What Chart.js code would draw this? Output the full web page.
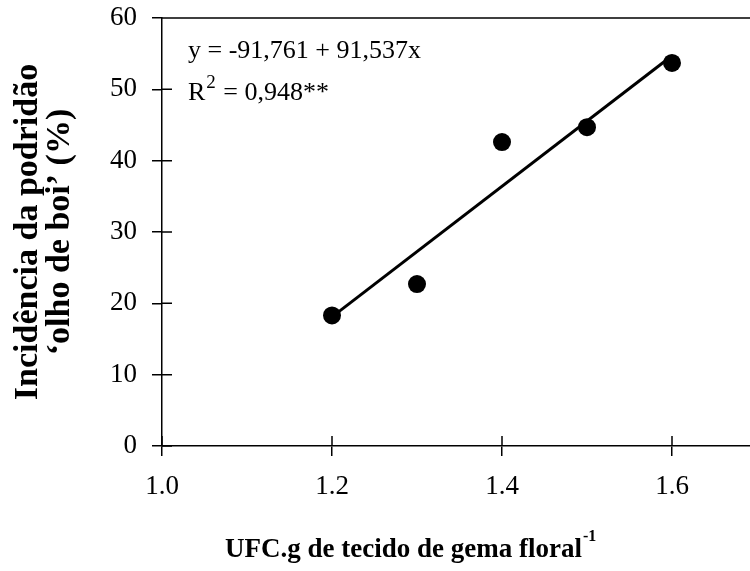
<!DOCTYPE html>
<html>
<head>
<meta charset="utf-8">
<script src="https://cdn.jsdelivr.net/npm/chart.js@4"></script>
<style>
  html, body { margin: 0; padding: 0; background: #fff; overflow: hidden; }
  #wrap { width: 750px; height: 571px; overflow: hidden; }
</style>
</head>
<body>
<div id="wrap"><canvas id="chart" width="770" height="571"></canvas></div>
<script>
// observed points
var pointsX = [1.2, 1.3, 1.4, 1.5, 1.6];
var pointsY = [18.3, 22.7, 42.6, 44.7, 53.7];
// fitted line, ends
var lineX = [1.2, 1.6];
var lineY = [18.1, 54.7];
// tick labels
var xTicks = [1.0, 1.2, 1.4, 1.6];
var yTicks = [0, 10, 20, 30, 40, 50, 60];

var serif = 'Liberation Serif';
Chart.defaults.font.family = serif;
Chart.defaults.color = '#000';

function toXY(xs, ys) {
  var out = [];
  for (var i = 0; i < xs.length; i++) out.push({ x: xs[i], y: ys[i] });
  return out;
}

// ticks cross the axes, and the top frame line, plus the texts
var extras = {
  id: 'extras',
  afterDraw: function (chart) {
    var ctx = chart.ctx;
    var area = chart.chartArea;
    var xs = chart.scales.x, ys = chart.scales.y;
    ctx.save();
    ctx.strokeStyle = '#000';
    ctx.lineWidth = 1.5;
    ctx.beginPath();
    ctx.moveTo(area.left, area.top);
    ctx.lineTo(area.right, area.top);
    yTicks.forEach(function (v) {
      var py = ys.getPixelForValue(v);
      ctx.moveTo(area.left, py);
      ctx.lineTo(area.left + 10, py);
    });
    xTicks.forEach(function (v) {
      var px = xs.getPixelForValue(v);
      ctx.moveTo(px, area.bottom);
      ctx.lineTo(px, area.bottom - 10);
    });
    ctx.stroke();

    // equation
    ctx.fillStyle = '#000';
    ctx.textBaseline = 'alphabetic';
    ctx.textAlign = 'left';
    var tx = area.left + 26;
    ctx.font = '26px "' + serif + '"';
    ctx.fillText('y = -91,761 + 91,537x', tx, area.top + 40);
    ctx.fillText('R', tx, area.top + 82);
    var w = ctx.measureText('R').width;
    ctx.font = '19px "' + serif + '"';
    ctx.fillText('2', tx + w + 1, area.top + 70);
    var w2 = ctx.measureText('2').width;
    ctx.font = '26px "' + serif + '"';
    ctx.fillText(' = 0,948**', tx + w + w2 + 2, area.top + 82);

    // x axis title with superscript
    ctx.font = 'bold 27px "' + serif + '"';
    var title = 'UFC.g de tecido de gema floral';
    ctx.fillText(title, 225, 557);
    var tw = ctx.measureText(title).width;
    ctx.font = 'bold 16px "' + serif + '"';
    ctx.fillText('-1', 225 + tw + 1, 541);
    ctx.restore();
  }
};

new Chart(document.getElementById('chart'), {
  type: 'scatter',
  data: {
    datasets: [
      {
        type: 'line',
        data: toXY(lineX, lineY),
        borderColor: '#000',
        borderWidth: 3,
        pointRadius: 0,
        fill: false
      },
      {
        data: toXY(pointsX, pointsY),
        backgroundColor: '#000',
        borderColor: '#000',
        borderWidth: 0,
        pointRadius: 9
      }
    ]
  },
  options: {
    responsive: false,
    animation: false,
    layout: { padding: { top: 18, right: 13, left: 0, bottom: 0 } },
    plugins: { legend: { display: false }, tooltip: { enabled: false } },
    scales: {
      x: {
        type: 'linear',
        min: 1.0,
        max: 1.7,
        afterBuildTicks: function (s) { s.ticks = xTicks.map(function (v) { return { value: v }; }); },
        afterFit: function (s) { s.height = 125; s.paddingLeft = 0; s.paddingRight = 0; },
        ticks: {
          font: { size: 27 },
          padding: 15,
          maxRotation: 0,
          callback: function (v) { return Number(v).toFixed(1); }
        },
        grid: { drawOnChartArea: false, tickLength: 10, color: '#000', lineWidth: 1.5 },
        border: { color: '#000', width: 1.5 }
      },
      y: {
        min: 0,
        max: 60,
        afterBuildTicks: function (s) { s.ticks = yTicks.map(function (v) { return { value: v }; }); },
        afterFit: function (s) { s.width = 162; s.paddingTop = 0; s.paddingBottom = 0; },
        ticks: { font: { size: 27 }, padding: 15 },
        grid: { drawOnChartArea: false, tickLength: 10, color: '#000', lineWidth: 1.5 },
        border: { color: '#000', width: 1.5 },
        title: {
          display: true,
          text: ['Incidência da podridão', '\u2018olho de boi\u2019 (%)'],
          font: { size: 34, weight: 'bold', lineHeight: 0.95 },
          padding: { top: 12, bottom: 0 }
        }
      }
    }
  },
  plugins: [extras]
});
</script>
</body>
</html>
